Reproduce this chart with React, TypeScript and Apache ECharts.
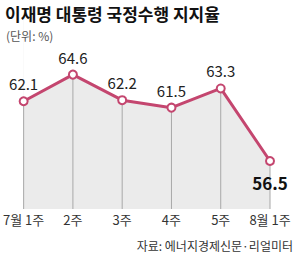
import React, { useEffect, useRef } from "react";
import * as echarts from "echarts";

const categories = ["7월 1주", "2주", "3주", "4주", "5주", "8월 1주"];
const approval = [62.1, 64.6, 62.2, 61.5, 63.3, 56.5];
const yMin = 52;
const yMax = 70;
const titleText = "이재명 대통령 국정수행 지지율";
const unitText = "(단위: %)";
const sourceText = "자료: 에너지경제신문·리얼미터";

const FONT = "'Noto Sans CJK KR', 'Noto Sans', sans-serif";

export default function App() {
  const ref = useRef<HTMLDivElement>(null);
  useEffect(() => {
    if (!ref.current) return;
    document.body.style.margin = "0";
    const chart = echarts.init(ref.current, null, { renderer: "svg" });
    const last = approval.length - 1;
    chart.setOption({
      animation: false,
      backgroundColor: "#ffffff",
      textStyle: { fontFamily: FONT },
      title: [
        {
          text: titleText,
          left: 0,
          top: 0,
          textStyle: { fontSize: 17, fontWeight: "bold", color: "#111", fontFamily: FONT },
        },
        {
          text: unitText,
          left: 1,
          top: 24,
          textStyle: { fontSize: 12, fontWeight: "normal", color: "#555", fontFamily: FONT },
        },
        {
          text: sourceText,
          right: 2,
          top: 234,
          textStyle: { fontSize: 12, fontWeight: "normal", color: "#333", fontFamily: FONT },
        },
      ],
      grid: {
        left: 23,
        right: 30,
        top: 17,
        bottom: 54,
        show: true,
        backgroundColor: "#ebebeb",
        borderWidth: 0,
      },
      xAxis: {
        type: "category",
        data: categories,
        boundaryGap: false,
        axisLine: { show: false },
        axisTick: { show: false },
        splitLine: { show: false },
        axisLabel: {
          color: "#333",
          fontSize: 13,
          margin: 4,
          fontFamily: FONT,
          interval: 0,
        },
      },
      yAxis: {
        type: "value",
        min: yMin,
        max: yMax,
        show: false,
        splitLine: { show: false },
      },
      series: [
        {
          type: "line",
          stack: "cover",
          data: approval,
          symbol: "none",
          silent: true,
          lineStyle: { opacity: 0 },
          z: 1,
        },
        {
          type: "line",
          stack: "cover",
          data: approval.map((v) => +(yMax - v).toFixed(1)),
          symbol: "none",
          silent: true,
          lineStyle: { opacity: 0 },
          areaStyle: { color: "#ffffff", opacity: 1 },
          z: 2,
        },
        {
          type: "bar",
          data: approval,
          barWidth: 1,
          silent: true,
          itemStyle: { color: "#a8a8a8" },
          z: 2.5,
        },
        {
          type: "line",
          data: approval.map((v, i) => ({
            value: v,
            label:
              i === last
                ? {
                    position: "bottom",
                    distance: 8,
                    fontSize: 17,
                    fontWeight: "bold",
                    color: "#111",
                  }
                : undefined,
          })),
          symbol: "circle",
          symbolSize: 8,
          itemStyle: { color: "#ffffff", borderColor: "#c4466f", borderWidth: 2 },
          lineStyle: { color: "#c4466f", width: 3 },
          label: {
            show: true,
            position: "top",
            distance: 5,
            fontSize: 15,
            color: "#222",
            fontFamily: FONT,
          },
          z: 3,
        },
      ],
    });
    return () => chart.dispose();
  }, []);
  return <div ref={ref} style={{ width: 300, height: 263 }} />;
}
